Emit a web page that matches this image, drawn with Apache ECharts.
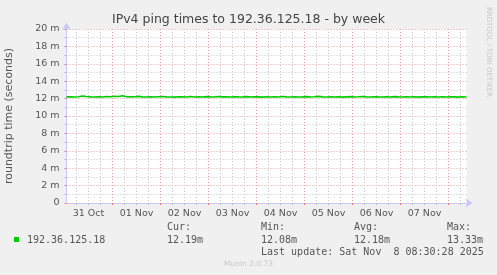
<!DOCTYPE html>
<html><head><meta charset="utf-8">
<script src="https://cdn.jsdelivr.net/npm/echarts@6/dist/echarts.min.js"></script>
<style>html,body{margin:0;padding:0;background:#f0f0f0}#c{width:497px;height:275px}</style>
</head><body><div id="c"></div>
<script>
// Time axis in hours since 31 Oct 00:00; plot spans 31 Oct 01:00 .. 08 Nov 09:00
const xStart = 1, xEnd = 201;
const dayBoundaries = [24, 48, 72, 96, 120, 144, 168, 192];
const sixHourMarks = [6, 12, 18, 30, 36, 42, 54, 60, 66, 78, 84, 90, 102, 108, 114, 126, 132, 138, 150, 156, 162, 174, 180, 186, 198];
const dayLabelPos = [12, 36, 60, 84, 108, 132, 156, 180];
const dayLabels = ['31 Oct', '01 Nov', '02 Nov', '03 Nov', '04 Nov', '05 Nov', '06 Nov', '07 Nov'];
// ping samples every 2 hours starting at hour 1 (ms)
const pingStep = 2;
const pingValues = [
  12.20,12.21,12.19,12.22,12.30,12.24,12.20,12.18,12.21,12.19,
  12.25,12.22,12.27,12.24,12.32,12.22,12.20,12.21,12.26,12.20,
  12.19,12.22,12.18,12.21,12.24,12.20,12.19,12.17,12.22,12.20,
  12.18,12.24,12.19,12.21,12.18,12.23,12.20,12.19,12.24,12.20,
  12.21,12.18,12.22,12.20,12.19,12.23,12.18,12.21,12.20,12.17,
  12.22,12.19,12.21,12.18,12.24,12.20,12.19,12.22,12.18,12.20,
  12.23,12.19,12.21,12.26,12.20,12.18,12.22,12.19,12.21,12.17,
  12.20,12.23,12.19,12.21,12.24,12.20,12.18,12.22,12.20,12.19,
  12.21,12.18,12.23,12.20,12.19,12.22,12.18,12.21,12.17,12.20,
  12.22,12.19,12.21,12.18,12.20,12.19,12.22,12.20,12.17,12.21,
  12.19
];
const yMin = 0, yMax = 20, yStep = 2;
const legendName = '192.36.125.18';
const statCur = '12.19m', statMin = '12.08m', statAvg = '12.18m', statMax = '13.33m';
const lastUpdate = 'Last update: Sat Nov  8 08:30:28 2025';

const seriesData = pingValues.map((v, i) => [xStart + i * pingStep, v]);

const chart = echarts.init(document.getElementById('c'), null, {renderer: 'canvas'});
const axisBlue = '#c8c8ff';
const redGrid = '#e99a9a';
const grayGrid = '#c4c4c4';
const dots = [1, 2];
const txt = '#555555';
const baseX = {type: 'value', min: xStart, max: xEnd, gridIndex: 0, position: 'bottom'};
const mono = '"DejaVu Sans Mono", monospace';
chart.setOption({
  backgroundColor: '#f0f0f0',
  animation: false,
  title: {text: 'IPv4 ping times to 192.36.125.18 - by week', left: 'center', top: 8,
    textStyle: {fontFamily: 'DejaVu Sans', fontSize: 12.5, fontWeight: 'normal', color: '#444'}},
  grid: {left: 66.5, right: 30.5, top: 29, bottom: 72, backgroundColor: '#ffffff', show: true, borderWidth: 0,
    containLabel: false, outerBoundsMode: 'none'},
  xAxis: [
    Object.assign({}, baseX, {
      axisLine: {show: true, lineStyle: {color: axisBlue, width: 1}, symbol: ['none', 'arrow'], symbolSize: [7, 7], symbolOffset: [0, 6]},
      axisTick: {show: true, customValues: sixHourMarks, length: 2, lineStyle: {color: '#bbbbbb'}},
      axisLabel: {show: false},
      splitLine: {show: true, lineStyle: {color: grayGrid, type: dots, width: 1}}
    }),
    Object.assign({}, baseX, {
      axisLine: {show: false},
      axisTick: {show: true, customValues: dayBoundaries, length: 2, lineStyle: {color: '#ee7777'}},
      axisLabel: {show: false},
      splitLine: {show: true, lineStyle: {color: redGrid, type: dots, width: 1}}
    }),
    Object.assign({}, baseX, {
      axisLine: {show: false},
      axisTick: {show: false, customValues: dayLabelPos},
      axisLabel: {show: true, customValues: dayLabelPos, margin: 6,
        formatter: v => dayLabels[dayLabelPos.indexOf(v)] || '',
        fontFamily: 'DejaVu Sans', fontSize: 9.5, color: txt},
      splitLine: {show: false}
    })
  ],
  yAxis: {
    type: 'value', min: yMin, max: yMax, interval: yStep,
    name: 'roundtrip time (seconds)', nameLocation: 'middle', nameGap: 52,
    nameTextStyle: {fontFamily: 'DejaVu Sans', fontSize: 11, color: txt},
    axisLine: {show: true, lineStyle: {color: axisBlue}, symbol: ['none', 'arrow'], symbolSize: [7, 7], symbolOffset: [0, 6]},
    axisTick: {show: true, length: 2, lineStyle: {color: '#ee7777'}},
    minorTick: {show: true, splitNumber: 2, length: 2, lineStyle: {color: '#bbbbbb'}},
    axisLabel: {fontFamily: 'DejaVu Sans', fontSize: 9.5, color: txt, margin: 7,
      formatter: v => v === 0 ? '0' : v + ' m'},
    splitLine: {show: true, lineStyle: {color: redGrid, type: dots}},
    minorSplitLine: {show: true, lineStyle: {color: grayGrid, type: dots}}
  },
  series: [{
    type: 'line', xAxisIndex: 0, data: seriesData, showSymbol: false,
    lineStyle: {color: '#00cc00', width: 1.6}, itemStyle: {color: '#00cc00'}, z: 5
  }],
  graphic: [
    {type: 'rect', left: 14, top: 237, shape: {width: 5, height: 5}, style: {fill: '#00cc00'}},
    {type: 'text', x: 27, y: 240, style: {text: legendName, font: '10px ' + mono, fill: txt, verticalAlign: 'middle'}},
    {type: 'text', x: 167, y: 227, style: {text: 'Cur:', font: '10px ' + mono, fill: txt, verticalAlign: 'middle'}},
    {type: 'text', x: 167, y: 240, style: {text: statCur, font: '10px ' + mono, fill: txt, verticalAlign: 'middle'}},
    {type: 'text', x: 261, y: 227, style: {text: 'Min:', font: '10px ' + mono, fill: txt, verticalAlign: 'middle'}},
    {type: 'text', x: 261, y: 240, style: {text: statMin, font: '10px ' + mono, fill: txt, verticalAlign: 'middle'}},
    {type: 'text', x: 354, y: 227, style: {text: 'Avg:', font: '10px ' + mono, fill: txt, verticalAlign: 'middle'}},
    {type: 'text', x: 354, y: 240, style: {text: statAvg, font: '10px ' + mono, fill: txt, verticalAlign: 'middle'}},
    {type: 'text', x: 447, y: 227, style: {text: 'Max:', font: '10px ' + mono, fill: txt, verticalAlign: 'middle'}},
    {type: 'text', x: 447, y: 240, style: {text: statMax, font: '10px ' + mono, fill: txt, verticalAlign: 'middle'}},
    {type: 'text', x: 261, y: 252, style: {text: lastUpdate, font: '10px ' + mono, fill: txt, verticalAlign: 'middle'}},
    {type: 'text', x: 248.5, y: 264, style: {text: 'Munin 2.0.73', font: '7.5px "DejaVu Sans"', fill: '#c8c8c8', align: 'center', verticalAlign: 'middle'}},
    {type: 'text', x: 489, y: 52, rotation: -Math.PI / 2, style: {text: 'RRDTOOL / TOBI OETIKER', font: '7px "DejaVu Sans"', fill: '#c8c8c8', align: 'center', verticalAlign: 'middle'}}
  ]
});
</script></body></html>
